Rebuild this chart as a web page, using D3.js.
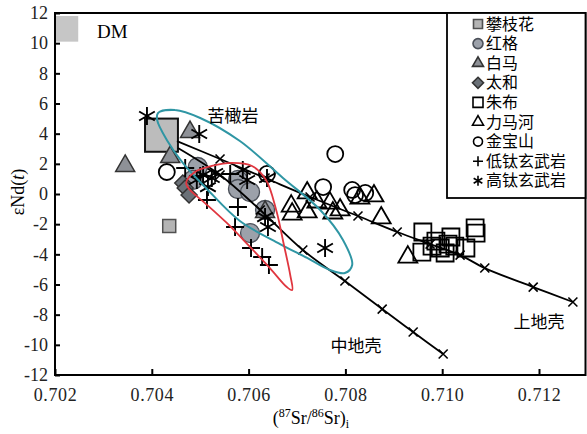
<!DOCTYPE html>
<html>
<head>
<meta charset="utf-8">
<script src="https://cdn.jsdelivr.net/npm/d3@7"></script>
<style>
  body { margin: 0; background: #fff; }
  svg text { font-family: "Liberation Serif", "Times New Roman", serif; }
  svg .cjk { font-family: "Noto Sans CJK SC", sans-serif; }
</style>
</head>
<body>
<div id="chart"></div>
<script>
// tick values
const xTicks = [0.702, 0.704, 0.706, 0.708, 0.710, 0.712];
const yTicks = [12, 10, 8, 6, 4, 2, 0, -2, -4, -6, -8, -10, -12];

// legend names
const groupNames = ["攀枝花", "红格", "白马", "太和", "朱布", "力马河", "金宝山", "低钛玄武岩", "高钛玄武岩"];

// samples [87Sr/86Sr, eNd]
const panzhihua = [[0.70436, -2.12]];
const hongge = [[0.70495, 1.79], [0.70485, 0.93], [0.70578, 0.93], [0.70578, 0.33], [0.70603, 0.13], [0.70634, -1.06], [0.70603, -2.59]];
const baima = [[0.70345, 1.86], [0.70479, 4.11], [0.70438, 2.45], [0.70634, -1.19]];
const taihe = [[0.70464, 0.73], [0.70469, 0.40], [0.70477, -0.07]];
const zhubu = [[0.70960, -2.52], [0.70958, -3.85], [0.70987, -3.12], [0.70996, -3.58], [0.71006, -3.91], [0.71018, -2.85],
  [0.71026, -3.45], [0.71049, -3.58], [0.71068, -2.25], [0.71070, -2.59], [0.70979, -3.45], [0.71012, -3.32]];
const limahe = [[0.70688, -0.80], [0.70690, -1.33], [0.70721, 0.07], [0.70721, -1.19], [0.70741, -0.53], [0.70768, -0.60],
  [0.70774, -1.26], [0.70789, -1.06], [0.70830, -0.27], [0.70859, -0.13], [0.70874, -1.59], [0.70929, -4.18]];
const jinbaoshan = [[0.70431, 1.46], [0.70779, 2.65], [0.70754, 0.46], [0.70814, 0.27], [0.70820, -0.07], [0.70841, 0.07], [0.70638, 1.33]];
const lowTi = [[0.70469, 1.72], [0.70514, -0.40], [0.70562, 1.33], [0.70578, -0.86], [0.70572, -2.19], [0.70605, -3.58],
  [0.70628, -4.18], [0.70642, -4.71], [0.70500, 1.19]];
const highTi = [[0.70390, 5.17], [0.70498, 3.98], [0.70506, 1.26], [0.70524, 1.06], [0.70531, 1.39], [0.70493, 0.93],
  [0.70516, 0.46], [0.70588, 1.59], [0.70597, 0.93], [0.70638, 1.06], [0.70634, -1.53], [0.70640, -2.19], [0.70758, -3.58]];

// source boxes [x0, x1, y0, y1]
const dmBox = [0.702, 0.70248, 10.1, 11.8];
const plumeBox = [0.70386, 0.70454, 2.8, 5.0];

// mixing lines, first point is the start
const upperCrust = [[0.70452, 3.51], [0.70541, 2.32], [0.70634, 1.06], [0.70727, -0.20], [0.70826, -1.46], [0.70907, -2.52],
  [0.70975, -3.32], [0.71037, -4.05], [0.71088, -4.91], [0.71188, -6.17], [0.71270, -7.16]];
const middleCrust = [[0.70454, 3.05], [0.70541, 1.26], [0.70624, -1.06], [0.70712, -3.71], [0.70799, -5.77],
  [0.70876, -7.63], [0.70940, -9.15], [0.71002, -10.61]];

// fields
const picriteField = [[0.70413, 5.37], [0.70448, 5.57], [0.70500, 5.04], [0.70582, 3.51], [0.70671, 1.06], [0.70748, -1.06],
  [0.70795, -3.05], [0.70814, -4.71], [0.70799, -5.24], [0.70768, -5.04], [0.70721, -4.24], [0.70665, -3.32],
  [0.70582, -1.79], [0.70514, 0.33], [0.70464, 2.06], [0.70431, 3.58], [0.70411, 4.91]];
const redField = [[0.70471, 0.73], [0.70489, 1.46], [0.70524, 1.86], [0.70566, 2.06], [0.70607, 1.86], [0.70636, 0.93],
  [0.70657, -1.06], [0.70673, -3.38], [0.70686, -5.37], [0.70690, -6.37], [0.70679, -6.17], [0.70644, -4.91],
  [0.70603, -3.51], [0.70555, -1.92], [0.70510, -0.60], [0.70479, 0.27]];

const W = 587, H = 434;
const x = d3.scaleLinear().domain([0.702, 0.713]).range([55, 587.4]);
const y = d3.scaleLinear().domain([-12, 12]).range([375, 13]);
const right = 585.5;

const svg = d3.select("#chart").append("svg").attr("width", W).attr("height", H);

// marker paths
function symPath(type, s) {
  switch (type) {
    case "square": return `M${-s},${-s}h${2 * s}v${2 * s}h${-2 * s}Z`;
    case "circle": return d3.symbol(d3.symbolCircle, Math.PI * s * s)();
    case "triangle": {
      const h = s * Math.sqrt(3);
      return `M0,${-h * 2 / 3}L${s},${h / 3}L${-s},${h / 3}Z`;
    }
    case "diamond": return `M0,${-s}L${s},0L0,${s}L${-s},0Z`;
    case "plus": return `M${-s},0H${s}M0,${-s}V${s}`;
    case "aster": {
      const a = s * 0.87, b = s * 0.5;
      return `M${-a},${-b}L${a},${b}M${-a},${b}L${a},${-b}M0,${-s}V${s}`;
    }
  }
}

const groups = [
  { data: panzhihua, type: "square", s: 6.5, ls: 4.5, fill: "#b4b4b4", stroke: "#505050", w: 1.5 },
  { data: hongge, type: "circle", s: 9.5, ls: 5, fill: "#9ca1aa", stroke: "#4a4f58", w: 1.3 },
  { data: baima, type: "triangle", s: 9.5, ls: 5.5, fill: "#8e9197", stroke: "#333", w: 1.5 },
  { data: taihe, type: "diamond", s: 8, ls: 5.5, fill: "#6b7178", stroke: "#333", w: 1.5 },
  { data: zhubu, type: "square", s: 8.5, ls: 5, fill: "none", stroke: "#000", w: 1.8 },
  { data: limahe, type: "triangle", s: 9.5, ls: 5.5, fill: "none", stroke: "#000", w: 1.8 },
  { data: jinbaoshan, type: "circle", s: 8, ls: 4.5, fill: "none", stroke: "#000", w: 1.8 },
  { data: lowTi, type: "plus", s: 9, ls: 5, fill: "none", stroke: "#000", w: 1.9 },
  { data: highTi, type: "aster", s: 9, ls: 5, fill: "none", stroke: "#000", w: 1.9 }
];

// DM box and label
svg.append("rect")
  .attr("x", x(dmBox[0])).attr("y", y(dmBox[3]))
  .attr("width", x(dmBox[1]) - x(dmBox[0])).attr("height", y(dmBox[2]) - y(dmBox[3]))
  .attr("fill", "#c6c6c6");
svg.append("text").attr("x", 97).attr("y", 38).attr("font-size", 19).text("DM");

// big source square
svg.append("rect")
  .attr("x", x(plumeBox[0])).attr("y", y(plumeBox[3]))
  .attr("width", x(plumeBox[1]) - x(plumeBox[0])).attr("height", y(plumeBox[2]) - y(plumeBox[3]))
  .attr("fill", "#bcbcbc").attr("stroke", "#111").attr("stroke-width", 2);

// sample markers
groups.forEach(g => {
  svg.append("g").selectAll("path")
    .data(g.data)
    .enter().append("path")
    .attr("transform", d => `translate(${x(d[0])},${y(d[1])})`)
    .attr("d", symPath(g.type, g.s))
    .attr("fill", g.fill)
    .attr("stroke", g.stroke)
    .attr("stroke-width", g.w);
});

// mixing lines with x marks
const line = d3.line().x(d => x(d[0])).y(d => y(d[1])).curve(d3.curveCatmullRom);
[upperCrust, middleCrust].forEach(pts => {
  svg.append("path").attr("d", line(pts))
    .attr("fill", "none").attr("stroke", "#000").attr("stroke-width", 1.8);
  svg.append("g").selectAll("path")
    .data(pts.slice(1))
    .enter().append("path")
    .attr("transform", d => `translate(${x(d[0])},${y(d[1])})`)
    .attr("d", "M-4.5,-4.5L4.5,4.5M-4.5,4.5L4.5,-4.5")
    .attr("stroke", "#000").attr("stroke-width", 1.6);
});

// fields
const closed = d3.line().x(d => x(d[0])).y(d => y(d[1])).curve(d3.curveCatmullRomClosed);
svg.append("path").attr("d", closed(picriteField))
  .attr("fill", "none").attr("stroke", "#2f96a4").attr("stroke-width", 2);
svg.append("path").attr("d", closed(redField))
  .attr("fill", "none").attr("stroke", "#e0363f").attr("stroke-width", 1.8);

// annotations
svg.append("text").attr("class", "cjk").attr("x", 233).attr("y", 122).attr("font-size", 17)
  .attr("text-anchor", "middle").text("苦橄岩");
svg.append("text").attr("class", "cjk").attr("x", 356).attr("y", 352).attr("font-size", 17)
  .attr("text-anchor", "middle").text("中地壳");
svg.append("text").attr("class", "cjk").attr("x", 539).attr("y", 328).attr("font-size", 17)
  .attr("text-anchor", "middle").text("上地壳");

// axes
const xAxis = svg.append("g").attr("transform", "translate(0,375)")
  .call(d3.axisBottom(x).tickValues(xTicks).tickSize(-6).tickPadding(13).tickFormat(d3.format(".3f")));
const yAxis = svg.append("g").attr("transform", "translate(55,0)")
  .call(d3.axisLeft(y).tickValues(yTicks).tickSize(-5).tickPadding(7).tickFormat(d => String(d)));
[xAxis, yAxis].forEach(a => {
  a.select(".domain").remove();
  a.selectAll("line").attr("stroke", "#000").attr("stroke-width", 2);
  a.selectAll("text").attr("font-size", 18).attr("fill", "#222")
    .style("font-family", '"Liberation Serif", "Times New Roman", serif');
});
xAxis.selectAll("text").attr("letter-spacing", 0.6);

// frame
svg.append("rect").attr("x", 55).attr("y", 13).attr("width", right - 55).attr("height", 362)
  .attr("fill", "none").attr("stroke", "#000").attr("stroke-width", 2);

// legend
const lg = svg.append("g");
lg.append("rect").attr("x", 447).attr("y", 13).attr("width", right - 447).attr("height", 185)
  .attr("fill", "#fff").attr("stroke", "#000").attr("stroke-width", 1.8);
groups.forEach((g, i) => {
  const cy = 24 + i * 19.6;
  lg.append("path").attr("transform", `translate(478,${cy})`)
    .attr("d", symPath(g.type, g.ls))
    .attr("fill", g.fill).attr("stroke", g.stroke).attr("stroke-width", 1.6);
  lg.append("text").attr("class", "cjk").attr("x", 486).attr("y", cy + 5.5).attr("font-size", 16)
    .text(groupNames[i]);
});

// axis titles
const yt = svg.append("text").attr("transform", "translate(24,192) rotate(-90)")
  .attr("text-anchor", "middle").attr("font-size", 18);
yt.append("tspan").text("εNd(");
yt.append("tspan").attr("font-style", "italic").text("t");
yt.append("tspan").text(")");

const xt = svg.append("text").attr("x", 311).attr("y", 424).attr("text-anchor", "middle").attr("font-size", 18);
xt.append("tspan").text("(");
xt.append("tspan").attr("font-size", 12).attr("dy", -7).text("87");
xt.append("tspan").attr("dy", 7).text("Sr/");
xt.append("tspan").attr("font-size", 12).attr("dy", -7).text("86");
xt.append("tspan").attr("dy", 7).text("Sr)");
xt.append("tspan").attr("font-size", 12).attr("dy", 4).text("i");
</script>
</body>
</html>
